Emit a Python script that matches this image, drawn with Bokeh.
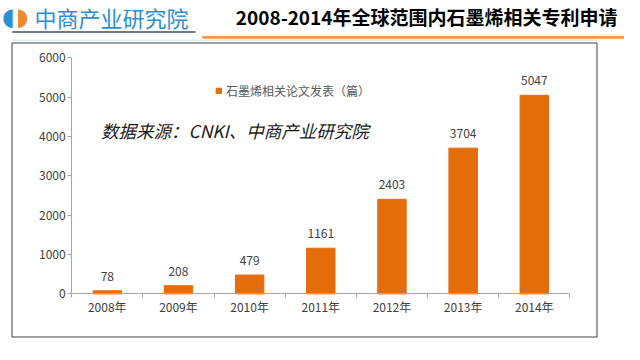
from bokeh.plotting import figure
from bokeh.models import (Range1d, FixedTicker, ColumnDataSource, LabelSet, Label,
                          BoxAnnotation, Legend, LegendItem)
from bokeh.core.properties import value
from bokeh.embed import file_html
from bokeh.resources import INLINE

# ---- data ----
years = ["2008年", "2009年", "2010年", "2011年", "2012年", "2013年", "2014年"]
papers = [78, 208, 479, 1161, 2403, 3704, 5047]
y_ticks = [0, 1000, 2000, 3000, 4000, 5000, 6000]
title_text = "2008-2014年全球范围内石墨烯相关专利申请"
logo_text = "中商产业研究院"
legend_text = "石墨烯相关论文发表（篇）"
source_text = "数据来源：CNKI、中商产业研究院"

FONT = "Noto Sans CJK SC"
BAR = "#E46C0A"
AXIS = "#A6A6A6"
TXT = "#404040"

# ---- layout (canvas pixels) ----
W, H = 624, 344
AX_L, AX_R, AX_T, AX_B = 71.2, 569.4, 57.3, 293.4   # axes box on the canvas
n = len(years)
ymax = y_ticks[-1]
px_x = (AX_R - AX_L) / n
px_y = (AX_B - AX_T) / ymax
x_rng = Range1d(-AX_L / px_x, n + (W - AX_R) / px_x)
y_rng = Range1d(-(H - AX_B) / px_y, ymax + AX_T / px_y)

p = figure(width=W, height=H, x_range=x_rng, y_range=y_rng,
           output_backend="svg", toolbar_location=None, title=None,
           min_border_left=0, min_border_right=0, min_border_top=0, min_border_bottom=0)
p.outline_line_color = None
p.xgrid.visible = False
p.ygrid.visible = False
p.background_fill_color = "white"
p.border_fill_color = "white"

positions = [i + 0.5 for i in range(n)]
src = ColumnDataSource(dict(x=positions, year=years, value=papers, label=[str(v) for v in papers]))
r = p.vbar(x="x", top="value", width=0.4, source=src, fill_color=BAR, line_color=BAR)

# x axis: labels at centres, small ticks at category boundaries
xa = p.xaxis[0]
xa.fixed_location = 0
xa.bounds = (0, n)
xa.ticker = FixedTicker(ticks=positions, minor_ticks=list(range(n + 1)))
xa.major_label_overrides = {pos: yr for pos, yr in zip(positions, years)}
xa.major_tick_line_color = None
xa.major_tick_in = 0
xa.major_tick_out = 0
xa.minor_tick_in = 0
xa.minor_tick_out = 4
xa.minor_tick_line_color = AXIS
xa.axis_line_color = AXIS
xa.major_label_standoff = 0
xa.major_label_text_font = FONT
xa.major_label_text_font_size = "12px"
xa.major_label_text_color = TXT

ya = p.yaxis[0]
ya.fixed_location = 0
ya.bounds = (0, ymax)
ya.ticker = FixedTicker(ticks=y_ticks)
ya.major_tick_in = 0
ya.major_tick_out = 4
ya.major_tick_line_color = AXIS
ya.minor_tick_line_color = None
ya.axis_line_color = AXIS
ya.major_label_standoff = 2
ya.major_label_text_font = FONT
ya.major_label_text_font_size = "12px"
ya.major_label_text_color = TXT

# value labels
p.add_layout(LabelSet(x="x", y="value", text="label", source=src, text_align="center",
                      text_baseline="alphabetic", y_offset=10, text_font=value(FONT),
                      text_font_size="12px", text_color=TXT))

# legend
legend = Legend(items=[LegendItem(label=legend_text, renderers=[r])], location=(215, 245),
                glyph_width=7, glyph_height=7, label_standoff=4, label_height=12,
                label_text_font=FONT, label_text_font_size="12px", label_text_color="#595959",
                border_line_color=None, background_fill_alpha=0, padding=0, margin=0)
p.add_layout(legend)

# source note
p.add_layout(Label(x=100.5, y=214, x_units="screen", y_units="screen", text=source_text,
                   text_font=FONT, text_font_size="17.5px", text_font_style="italic",
                   text_color="#1a1a1a", text_baseline="middle"))

# header
p.add_layout(Label(x=617, y=328, x_units="screen", y_units="screen", text=title_text,
                   text_font=FONT, text_font_size="19px", text_font_style="bold",
                   text_color="black", text_baseline="middle", text_align="right"))
p.add_layout(Label(x=34, y=328, x_units="screen", y_units="screen", text=logo_text,
                   text_font=FONT, text_font_size="22px",
                   text_color="#2B8FD1", text_baseline="middle", text_align="left"))
p.add_layout(Label(x=14.5, y=328, x_units="screen", y_units="screen", text="◖",
                   text_font="DejaVu Sans", text_font_size="24px",
                   text_color="#2B8FD1", text_baseline="middle", text_align="right"))
p.add_layout(Label(x=15.5, y=328, x_units="screen", y_units="screen", text="◗",
                   text_font="DejaVu Sans", text_font_size="24px",
                   text_color="#EE8A2E", text_baseline="middle", text_align="left"))

def box(l, rgt, t, b, fill=None, line=None):
    kw = dict(left=l, right=rgt, top=t, bottom=b, left_units="screen", right_units="screen",
              top_units="screen", bottom_units="screen", level="overlay")
    if fill:
        kw.update(fill_color=fill, fill_alpha=1)
    else:
        kw.update(fill_alpha=0)
    if line:
        kw.update(line_color=line, line_alpha=1, line_width=1)
    else:
        kw.update(line_alpha=0)
    p.add_layout(BoxAnnotation(**kw))

box(11.7, 195, 313.4, 311.5, fill="#6d7b87")
box(201.8, 624, 308.6, 305.8, fill="#EE9A4D")
box(11.7, 596.7, 304.8, 303.9, fill="#BFD9E8")
box(11.5, 596.5, 301.5, 7.5, line="#404040")

open("out.html", "w").write(file_html(p, INLINE))
